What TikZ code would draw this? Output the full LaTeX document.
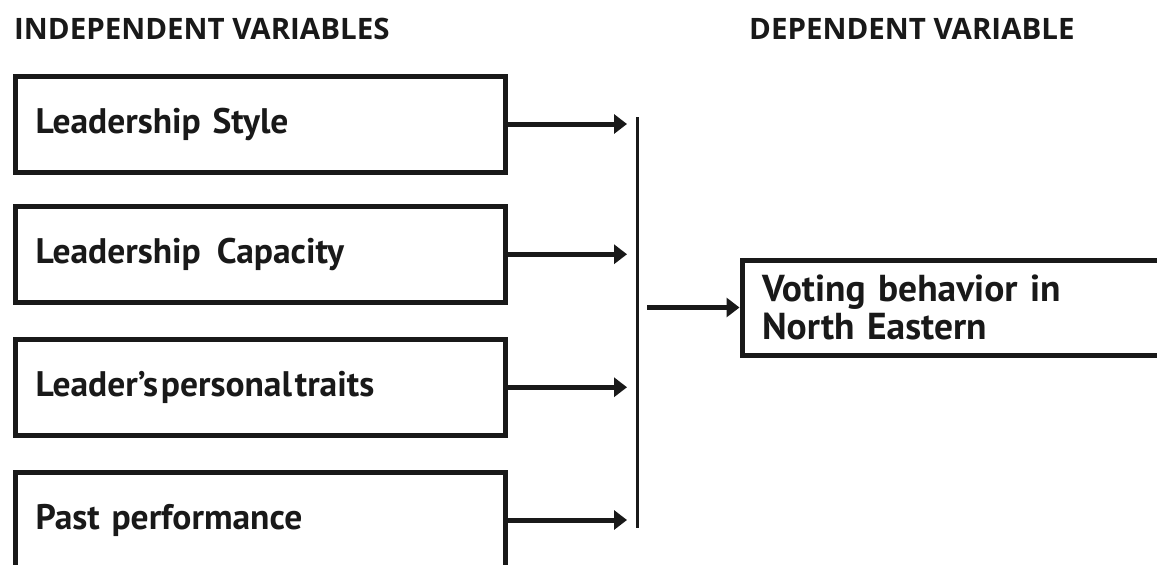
\documentclass[tikz,border=0pt]{standalone}
\usepackage{fontspec}
\setmainfont{PT Sans}
\newfontfamily\headfont{Open Sans}
\usetikzlibrary{arrows.meta}
\begin{document}
\begin{tikzpicture}[x=1pt,y=-1pt,
  box/.style={draw=black!90, line width=5pt, rectangle, minimum width=489.5pt, minimum height=96pt,
    text width=449.5pt, inner xsep=20pt, align=left, font=\fontsize{35.5}{38}\selectfont\bfseries, text=black!90},
  head/.style={anchor=base west, inner sep=0pt, font=\headfont\fontsize{29.5}{30}\selectfont\bfseries, text=black!90},
  arr/.style={draw=black!90, line width=5pt, -{Triangle[length=13pt,width=19pt]}},
  vline/.style={draw=black!90, line width=3pt}]
\useasboundingbox (0,0) rectangle (1157,565);
\fill[white] (0,0) rectangle (1157,565);
\node[head] (h1) at (14,39) {INDEPENDENT VARIABLES};
\node[head] (h2) at (749,39) {DEPENDENT VARIABLE};
\node[box] (b1) at (260.25,124) {Leadership Style};
\node[box] (b2) at (260.25,254.25) {Leadership\hspace{0.45em}Capacity};
\node[box] (b3) at (260.25,387.25) {Leader’s\hspace{0.08em}personal\hspace{0.08em}traits};
\node[box] (b4) at (260.25,520) {Past performance};
\coordinate (vtop) at (637,117);
\coordinate (vbot) at (637,528);
\coordinate (tipx) at (627,0);
\draw[vline] (vtop) -- (vbot);
\draw[arr] (b1.east) -- (b1.east -| tipx);
\draw[arr] (b2.east) -- (b2.east -| tipx);
\draw[arr] (b3.east) -- (b3.east -| tipx);
\draw[arr] (b4.east) -- (b4.east -| tipx);
\node[box, minimum width=490pt, minimum height=95pt, text width=450pt, font=\fontsize{37.5}{38.5}\selectfont\bfseries] (rb) at (987,307.5) {Voting behavior in\\North Eastern};
\coordinate (rstart) at (647,307.5);
\draw[arr] (rstart) -- (rb.west);
\end{tikzpicture}
\end{document}
